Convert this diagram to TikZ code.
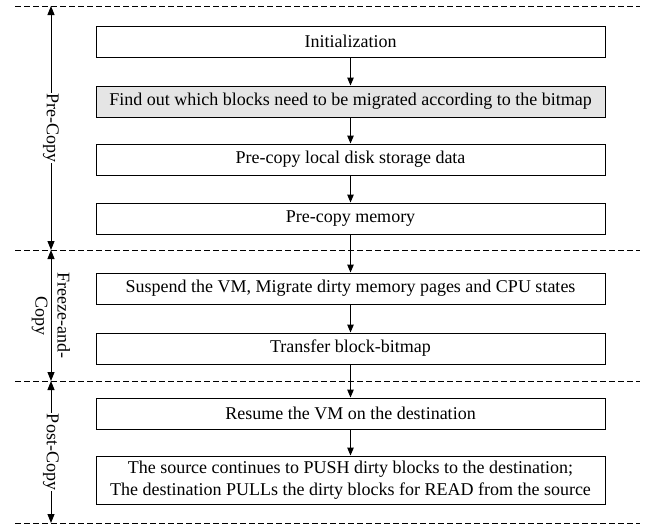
\documentclass[tikz,border=0pt]{standalone}
\usepackage{fontspec}
\setmainfont{Liberation Serif}
\usetikzlibrary{arrows.meta}
\begin{document}
\begin{tikzpicture}[x=1pt,y=-1pt,
  stepbox/.style={draw,line width=1pt,minimum width=509pt,minimum height=31pt,inner sep=0pt,font=\fontsize{18}{22}\selectfont,align=center},
  flow/.style={-{Triangle[length=8pt,width=6.5pt]},line width=1pt},
  phase/.style={{Triangle[length=9pt,width=7pt]}-{Triangle[length=9pt,width=7pt]},line width=1pt},
  sep/.style={dashed,dash pattern=on 5.5pt off 3.5pt,line width=1pt},
  plabel/.style={rotate=-90,font=\fontsize{18}{22}\selectfont,align=center,inner sep=1pt}]
\useasboundingbox (0,0) rectangle (654,525);
\coordinate (s0l) at (15,6);   \coordinate (s0r) at (640,6);
\coordinate (s1l) at (15,250); \coordinate (s1r) at (640,250);
\coordinate (s2l) at (15,381); \coordinate (s2r) at (640,381);
\coordinate (s3l) at (15,523); \coordinate (s3r) at (640,523);
\draw[sep] (s0l) -- (s0r);
\draw[sep] (s1l) -- (s1r);
\draw[sep] (s2l) -- (s2r);
\draw[sep] (s3l) -- (s3r);
\coordinate (a0) at (51,6);
\coordinate (a1) at (51,250);
\coordinate (a2) at (51,381);
\coordinate (a3) at (51,523);
\draw[phase] (a0) -- (a1);
\draw[phase] (a1) -- (a2);
\draw[phase] (a2) -- (a3);
\node[plabel,fill=white] (lpre) at (51,128) {Pre-Copy};
\node[plabel] (lfrz) at (51,315.5) {Freeze-and-\\Copy};
\node[plabel,fill=white] (lpost) at (51,452) {Post-Copy};
\node[stepbox] (b1) at (350.5,41.5) {Initialization};
\node[stepbox,fill=black!10] (b2) at (350.5,101.5) {Find out which blocks need to be migrated according to the bitmap};
\node[stepbox] (b3) at (350.5,159.5) {Pre-copy local disk storage data};
\node[stepbox] (b4) at (350.5,218.5) {Pre-copy memory};
\node[stepbox] (b5) at (350.5,288.5) {Suspend the VM, Migrate dirty memory pages and CPU states};
\node[stepbox] (b6) at (350.5,348.5) {Transfer block-bitmap};
\node[stepbox] (b7) at (350.5,413.5) {Resume the VM on the destination};
\node[stepbox,minimum height=48pt] (b8) at (350.5,480) {The source continues to PUSH dirty blocks to the destination;\\The destination PULLs the dirty blocks for READ from the source};
\draw[flow] (b1) -- (b2);
\draw[flow] (b2) -- (b3);
\draw[flow] (b3) -- (b4);
\draw[flow] (b4) -- (b5);
\draw[flow] (b5) -- (b6);
\draw[flow] (b6) -- (b7);
\draw[flow] (b7) -- (b8);
\end{tikzpicture}
\end{document}
